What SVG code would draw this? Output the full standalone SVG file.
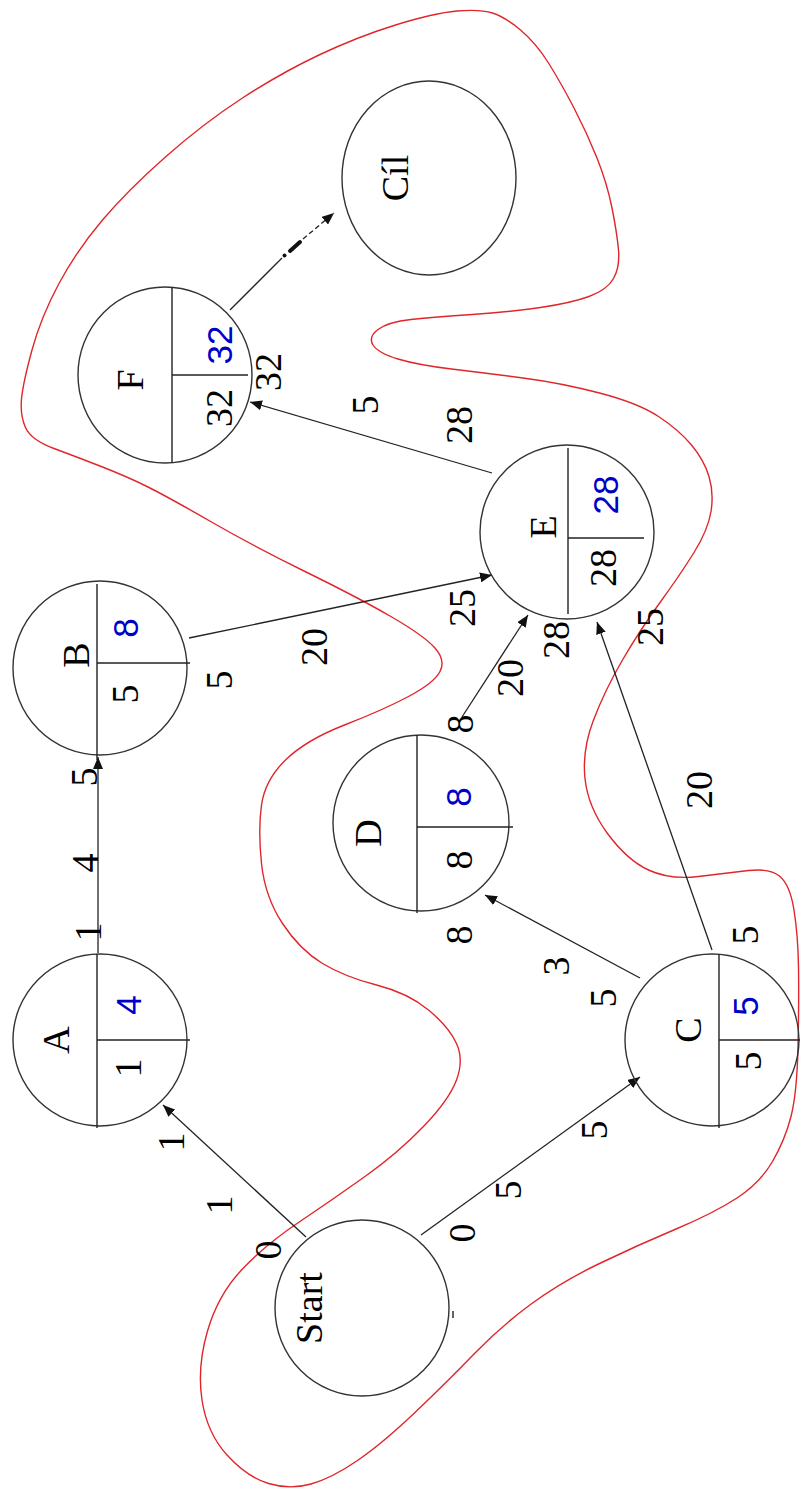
<svg xmlns="http://www.w3.org/2000/svg" width="800" height="1494" viewBox="0 0 800 1494">
<style>
.n{fill:none;stroke:#333;stroke-width:1.4}
.d{stroke:#222;stroke-width:1.4}
.e{stroke:#222;stroke-width:1.3;fill:none}
.t{font-family:"Liberation Serif","Times New Roman",serif;font-size:38px;fill:#000;text-anchor:middle;dominant-baseline:central}
.b{font-family:"Liberation Sans",Arial,sans-serif;font-size:35px;fill:#0000c8;text-anchor:middle;dominant-baseline:central}
.r{fill:none;stroke:#e0262a;stroke-width:1.4}
</style>
<defs>
<marker id="ah" markerUnits="userSpaceOnUse" markerWidth="14" markerHeight="10" refX="12" refY="5" orient="auto">
<path d="M0,0 L12,5 L0,10 Z" fill="#111"/>
</marker>
</defs>
<rect width="800" height="1494" fill="#fff"/>
<path class="r" d="M457,11 Q480,9 492.5,13 Q505,17 520.5,30 Q536,43 548.5,63 Q561,83 574,108 Q587,133 597,158 Q607,183 612,208 Q617,233 618.5,250 Q620,267 613.5,278.5 Q607,290 589,296.5 Q571,303 540.5,307.5 Q510,312 472,314.5 Q434,317 411,319.5 Q388,322 378,329.5 Q368,337 373,345 Q378,353 398,359 Q418,365 451.5,369 Q485,373 523,378 Q561,383 599.5,393 Q638,403 658.5,416.5 Q679,430 691.5,445 Q704,460 709,476.5 Q714,493 711,511.5 Q708,530 694,552.5 Q680,575 660,602.5 Q640,630 622.5,660 Q605,690 593.5,720 Q582,750 585,778.5 Q588,807 607.5,833.5 Q627,860 648.5,870 Q670,880 698.5,876.5 Q727,873 748.5,870.5 Q770,868 780,876.5 Q790,885 794,910 Q798,935 798.5,967.5 Q799,1000 798,1046.5 Q797,1093 791,1116.5 Q785,1140 772.5,1161.5 Q760,1183 737,1198 Q714,1213 676,1229 Q638,1245 599.5,1263.5 Q561,1282 530.5,1304.5 Q500,1327 474.5,1353.5 Q449,1380 416,1411.5 Q383,1443 357.5,1460.5 Q332,1478 311,1484 Q290,1490 268.5,1483.5 Q247,1477 227,1455 Q207,1433 202,1400 Q197,1367 207.5,1331 Q218,1295 241.5,1270 Q265,1245 298.5,1222.5 Q332,1200 365,1176.5 Q398,1153 423.5,1126.5 Q449,1100 456.5,1080 Q464,1060 456.5,1043.5 Q449,1027 428.5,1010 Q408,993 376.5,985 Q345,977 322.5,963.5 Q300,950 282.5,923.5 Q265,897 261.5,863.5 Q258,830 261.5,805 Q265,780 285.5,760 Q306,740 344.5,725 Q383,710 408.5,696.5 Q434,683 440,671.5 Q446,660 434.5,647.5 Q423,635 390,616 Q357,597 306,572 Q255,547 211.5,522 Q168,497 148,487 Q128,477 102.5,467 Q77,457 54,448.5 Q31,440 25.5,427.5 Q20,415 21.5,399 Q23,383 32,350 Q41,317 59,283.5 Q77,250 102.5,220 Q128,190 166,156.5 Q204,123 242.5,98 Q281,73 319,55 Q357,37 395.5,25 Q434,13 457,11 Z"/>
<g id="connectors">
<line class="e" x1="306" y1="1237" x2="163" y2="1105" marker-end="url(#ah)"/>
<line class="e" x1="421" y1="1235" x2="640" y2="1077" marker-end="url(#ah)"/>
<line class="e" x1="98" y1="953" x2="98" y2="757" marker-end="url(#ah)"/>
<line class="e" x1="189" y1="638" x2="492" y2="575" marker-end="url(#ah)"/>
<line class="e" x1="640" y1="978" x2="485" y2="895" marker-end="url(#ah)"/>
<line class="e" x1="462" y1="717" x2="528" y2="615" marker-end="url(#ah)"/>
<line class="e" x1="712" y1="950" x2="597" y2="622" marker-end="url(#ah)"/>
<line class="e" x1="492" y1="473" x2="250" y2="402" marker-end="url(#ah)"/>
<line class="e" x1="230" y1="310" x2="282" y2="258"/>
<circle cx="284.5" cy="255.5" r="2" fill="#111"/>
<line x1="290" y1="251" x2="300" y2="242" stroke="#111" stroke-width="4" stroke-linecap="round"/>
<line class="e" x1="303" y1="239" x2="334" y2="213" stroke-dasharray="5 3" marker-end="url(#ah)"/>
</g>
<g id="start">
<ellipse class="n" cx="362" cy="1308" rx="87" ry="88"/>
<line class="d" x1="453" y1="1311" x2="453" y2="1318"/>
<text class="t" transform="rotate(-90 309 1308)" x="309" y="1308">Start</text>
</g>
<g id="A">
<ellipse class="n" cx="100" cy="1040" rx="87" ry="86"/>
<line class="d" x1="97" y1="954" x2="97" y2="1128"/>
<line class="d" x1="97" y1="1040" x2="190" y2="1040"/>
<text class="t" transform="rotate(-90 56 1040)" x="56" y="1040">A</text>
<text class="b" transform="rotate(-90 128 1005)" x="128" y="1005">4</text>
<text class="t" transform="rotate(-90 128 1068)" x="128" y="1068">1</text>
</g>
<g id="B">
<ellipse class="n" cx="100" cy="668" rx="87" ry="87"/>
<line class="d" x1="97" y1="584" x2="97" y2="760"/>
<line class="d" x1="97" y1="663" x2="190" y2="663"/>
<text class="t" transform="rotate(-90 76 655)" x="76" y="655">B</text>
<text class="b" transform="rotate(-90 125 628)" x="125" y="628">8</text>
<text class="t" transform="rotate(-90 125 694)" x="125" y="694">5</text>
</g>
<g id="C">
<ellipse class="n" cx="712" cy="1040" rx="87" ry="86"/>
<line class="d" x1="719" y1="954" x2="719" y2="1128"/>
<line class="d" x1="719" y1="1040" x2="800" y2="1040"/>
<text class="t" transform="rotate(-90 688 1030)" x="688" y="1030">C</text>
<text class="b" transform="rotate(-90 745 1006)" x="745" y="1006">5</text>
<text class="t" transform="rotate(-90 748 1061)" x="748" y="1061">5</text>
</g>
<g id="D">
<ellipse class="n" cx="421" cy="823" rx="88" ry="88"/>
<line class="d" x1="417" y1="735" x2="417" y2="913"/>
<line class="d" x1="417" y1="827" x2="513" y2="827"/>
<text class="t" transform="rotate(-90 368 833)" x="368" y="833">D</text>
<text class="b" transform="rotate(-90 458 797)" x="458" y="797">8</text>
<text class="t" transform="rotate(-90 459 860)" x="459" y="860">8</text>
</g>
<g id="E">
<ellipse class="n" cx="567" cy="532" rx="87" ry="87"/>
<line class="d" x1="568" y1="448" x2="568" y2="614"/>
<line class="d" x1="568" y1="538" x2="644" y2="538"/>
<text class="t" transform="rotate(-90 543 527)" x="543" y="527">E</text>
<text class="b" transform="rotate(-90 605 495)" x="605" y="495">28</text>
<text class="t" transform="rotate(-90 603 568)" x="603" y="568">28</text>
</g>
<g id="F">
<ellipse class="n" cx="165" cy="375" rx="87" ry="88"/>
<line class="d" x1="172" y1="287" x2="172" y2="463"/>
<line class="d" x1="172" y1="375" x2="248" y2="375"/>
<text class="t" transform="rotate(-90 130 380)" x="130" y="380">F</text>
<text class="b" transform="rotate(-90 219 345)" x="219" y="345">32</text>
<text class="t" transform="rotate(-90 219 408)" x="219" y="408">32</text>
</g>
<g id="cil">
<ellipse class="n" cx="429" cy="178" rx="87" ry="97"/>
<text class="t" transform="rotate(-90 395 178)" x="395" y="178">Cíl</text>
</g>
<g id="labels">
<text class="t" transform="rotate(-90 268 1250)" x="268" y="1250">0</text>
<text class="t" transform="rotate(-90 219 1205)" x="219" y="1205">1</text>
<text class="t" transform="rotate(-90 171 1142)" x="171" y="1142">1</text>
<text class="t" transform="rotate(-90 462 1233)" x="462" y="1233">0</text>
<text class="t" transform="rotate(-90 508 1190)" x="508" y="1190">5</text>
<text class="t" transform="rotate(-90 594 1130)" x="594" y="1130">5</text>
<text class="t" transform="rotate(-90 88 932)" x="88" y="932">1</text>
<text class="t" transform="rotate(-90 85 863)" x="85" y="863">4</text>
<text class="t" transform="rotate(-90 84 777)" x="84" y="777">5</text>
<text class="t" transform="rotate(-90 219 680)" x="219" y="680">5</text>
<text class="t" transform="rotate(-90 314 647)" x="314" y="647">20</text>
<text class="t" transform="rotate(-90 462 608)" x="462" y="608">25</text>
<text class="t" transform="rotate(-90 459 935)" x="459" y="935">8</text>
<text class="t" transform="rotate(-90 556 966)" x="556" y="966">3</text>
<text class="t" transform="rotate(-90 603 998)" x="603" y="998">5</text>
<text class="t" transform="rotate(-90 745 935)" x="745" y="935">5</text>
<text class="t" transform="rotate(-90 699 790)" x="699" y="790">20</text>
<text class="t" transform="rotate(-90 650 627)" x="650" y="627">25</text>
<text class="t" transform="rotate(-90 460 724)" x="460" y="724">8</text>
<text class="t" transform="rotate(-90 510 678)" x="510" y="678">20</text>
<text class="t" transform="rotate(-90 556 640)" x="556" y="640">28</text>
<text class="t" transform="rotate(-90 365 405)" x="365" y="405">5</text>
<text class="t" transform="rotate(-90 459 425)" x="459" y="425">28</text>
<text class="t" transform="rotate(-90 268 372)" x="268" y="372">32</text>
</g>
</svg>
